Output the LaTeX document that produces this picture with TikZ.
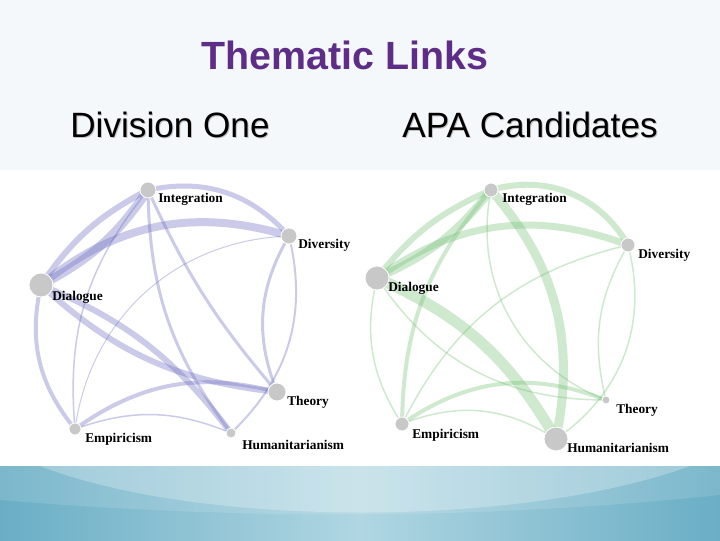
\documentclass[tikz,border=0pt]{standalone}
\usepackage{fontspec}
\setmainfont{Liberation Serif}
\newfontfamily\arialfont{Liberation Sans}
\usetikzlibrary{positioning,calc}
\definecolor{TitlePurple}{RGB}{93,45,135}
\definecolor{HeadBg}{RGB}{245,248,250}
\definecolor{BandTeal}{RGB}{106,174,197}
\definecolor{BandLight}{RGB}{176,214,226}
\definecolor{NodeGray}{RGB}{200,200,200}
\definecolor{LinkBlue}{RGB}{100,100,190}
\definecolor{LinkGreen}{RGB}{110,190,110}
\pgfdeclarelayer{back}
\pgfdeclarelayer{links}
\pgfsetlayers{back,links,main}
\tikzset{
  hub/.style={circle, fill=NodeGray, draw=white, line width=0.6pt, inner sep=0pt},
  lbl/.style={anchor=west, inner sep=0pt, font=\fontsize{9.5}{11}\selectfont\bfseries},
  head/.style={anchor=base, font=\arialfont\fontsize{25}{30}\selectfont},
  lw/.style={line width=#1*0.71pt},
  lnkA/.style={draw=LinkBlue, draw opacity=0.33},
  lnkB/.style={draw=LinkGreen, draw opacity=0.33}
}

\begin{document}
\begin{tikzpicture}[x=0.025cm, y=0.025cm]
\useasboundingbox (0,0) rectangle (720,540);
\begin{pgfonlayer}{back}
\fill[HeadBg] (0,370) rectangle (720,540);
\fill[white] (0,74) rectangle (720,370);
\shade[left color=BandTeal, right color=BandTeal, middle color=BandLight] (0,0) rectangle (720,74);
\fill[white, opacity=0.25] (40,74) .. controls (200,12) and (520,12) .. (690,74) -- cycle;
\fill[white, opacity=0.12] (0,40) .. controls (240,20) and (480,20) .. (720,45) -- (720,74) -- (0,74) -- cycle;
\end{pgfonlayer}

\node[anchor=base, text=TitlePurple, font=\arialfont\bfseries\fontsize{28}{34}\selectfont] (title) at (345,470) {Thematic Links};
\node[head, text=black!25] (divoneS) at (171,401) {Division One};
\node[head] (divone) at (170,402) {Division One};
\node[head, text=black!25] (apaS) at (531,401) {APA Candidates};
\node[head] (apa) at (530,402) {APA Candidates};

\node[hub, minimum size=0.4cm] (lint) at (148,350) {};
\node[hub, minimum size=0.4cm] (ldiv) at (289,304) {};
\node[hub, minimum size=0.6cm] (ldia) at (41,255) {};
\node[hub, minimum size=0.45cm] (lthe) at (277,148) {};
\node[hub, minimum size=0.3cm] (lemp) at (75,111) {};
\node[hub, minimum size=0.25cm] (lhum) at (231,107) {};
\node[lbl] (lintL) at ([shift={(10,-9)}]lint.center) {Integration};
\node[lbl] (ldivL) at ([shift={(9,-9)}]ldiv.center) {Diversity};
\node[lbl] (ldiaL) at ([shift={(11,-12)}]ldia.center) {Dialogue};
\node[lbl] (ltheL) at ([shift={(10,-10)}]lthe.center) {Theory};
\node[lbl] (lempL) at ([shift={(10,-10)}]lemp.center) {Empiricism};
\node[lbl] (lhumL) at ([shift={(11,-12)}]lhum.center) {Humanitarianism};

\node[hub, minimum size=0.35cm] (rint) at (491,350) {};
\node[hub, minimum size=0.35cm] (rdiv) at (628,295) {};
\node[hub, minimum size=0.6cm] (rdia) at (377,262) {};
\node[hub, minimum size=0.2cm] (rthe) at (606,140) {};
\node[hub, minimum size=0.35cm] (remp) at (402,116) {};
\node[hub, minimum size=0.6cm] (rhum) at (556,101) {};
\node[lbl] (rintL) at ([shift={(11,-9)}]rint.center) {Integration};
\node[lbl] (rdivL) at ([shift={(10,-10)}]rdiv.center) {Diversity};
\node[lbl] (rdiaL) at ([shift={(11,-10)}]rdia.center) {Dialogue};
\node[lbl] (rtheL) at ([shift={(10,-10)}]rthe.center) {Theory};
\node[lbl] (rempL) at ([shift={(10,-11)}]remp.center) {Empiricism};
\node[lbl] (rhumL) at ([shift={(11,-9)}]rhum.center) {Humanitarianism};

\begin{pgfonlayer}{links}
\draw[lnkA, lw=5] (lint.center) to[bend left=30] (ldiv.center);
\draw[lnkA, lw=8] (ldia.center) to[bend left=28] (ldiv.center);
\draw[lnkA, lw=9] (ldia.center) to[bend right=14] (lint.center);
\draw[lnkA, lw=6] (ldia.center) to[bend left=14] (lint.center);
\draw[lnkA, lw=6] (ldia.center) to[bend right=18] (lthe.center);
\draw[lnkA, lw=6] (ldia.center) to[bend left=15] (lhum.center);
\draw[lnkA, lw=4] (ldia.center) to[bend right=26] (lemp.center);
\draw[lnkA, lw=1.5] (lint.center) to[bend right=22] (lemp.center);
\draw[lnkA, lw=3] (lint.center) to[bend right=18] (lhum.center);
\draw[lnkA, lw=3] (lint.center) to[bend right=8] (lthe.center);
\draw[lnkA, lw=3] (ldiv.center) to[bend right=26] (lthe.center);
\draw[lnkA, lw=2] (ldiv.center) to[bend left=30] (lhum.center);
\draw[lnkA, lw=1] (ldiv.center) to[bend right=40] (lemp.center);
\draw[lnkA, lw=4] (lemp.center) to[bend left=25] (lthe.center);
\draw[lnkA, lw=1.5] (lemp.center) to[bend left=21] (lhum.center);

\draw[lnkB, lw=6] (rint.center) to[bend left=38] (rdiv.center);
\draw[lnkB, lw=7] (rdia.center) to[bend left=28] (rdiv.center);
\draw[lnkB, lw=8] (rdia.center) to[bend right=14] (rint.center);
\draw[lnkB, lw=6] (rdia.center) to[bend left=14] (rint.center);
\draw[lnkB, lw=4] (rint.center) to[bend right=20] (remp.center);
\draw[lnkB, lw=9] (rint.center) to[bend left=26] (rhum.center);
\draw[lnkB, lw=1.5] (rint.center) to[bend right=40] (rthe.center);
\draw[lnkB, lw=11] (rdia.center) to[bend left=18] (rhum.center);
\draw[lnkB, lw=1.5] (rdia.center) to[bend right=28] (rthe.center);
\draw[lnkB, lw=1.5] (rdia.center) to[bend right=23] (remp.center);
\draw[lnkB, lw=1.5] (rdiv.center) to[bend right=25] (remp.center);
\draw[lnkB, lw=1.5] (rdiv.center) to[bend right=22] (rthe.center);
\draw[lnkB, lw=1.5] (rdiv.center) to[bend left=35] (rhum.center);
\draw[lnkB, lw=4] (remp.center) to[bend left=28] (rthe.center);
\draw[lnkB, lw=1.5] (remp.center) to[bend left=27] (rhum.center);
\end{pgfonlayer}
\end{tikzpicture}
\end{document}
